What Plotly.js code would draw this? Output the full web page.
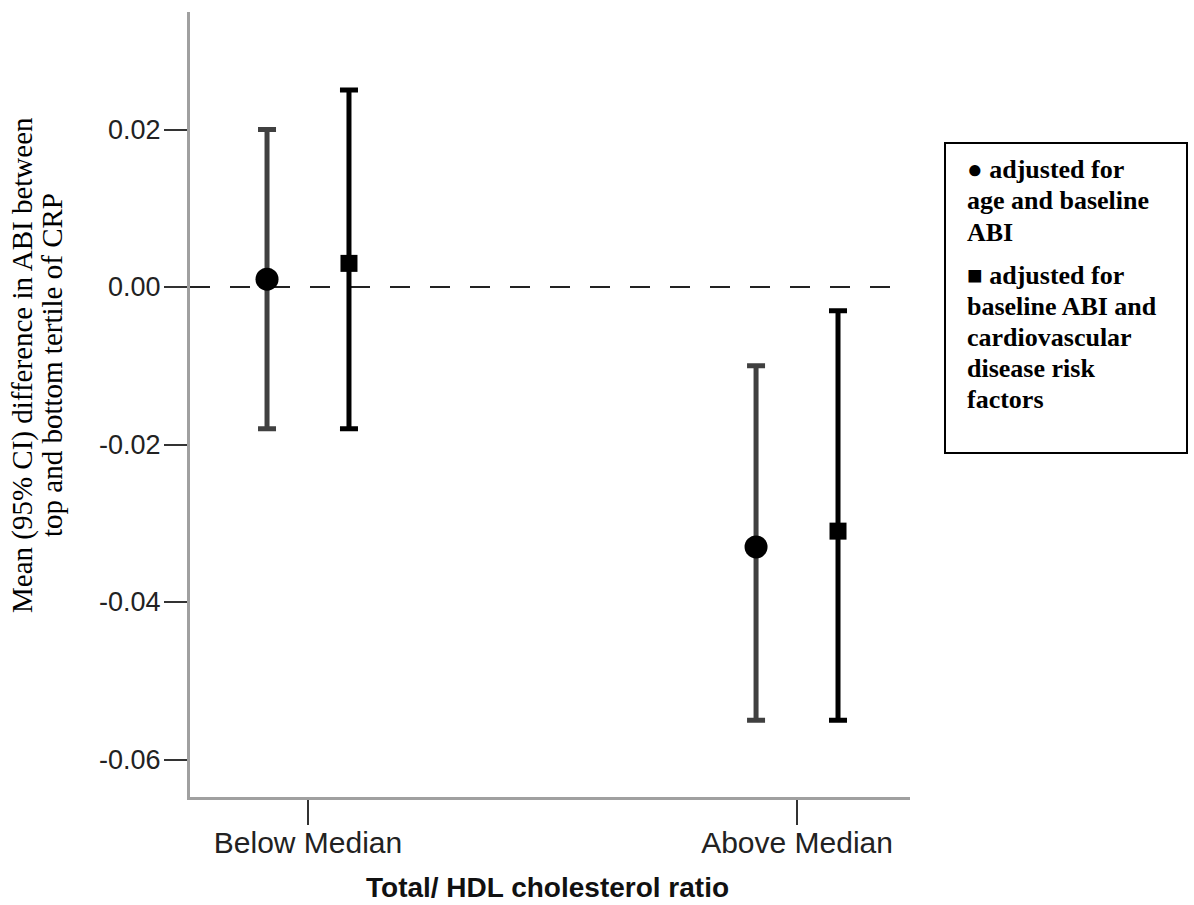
<!DOCTYPE html>
<html>
<head>
<meta charset="utf-8">
<script src="https://cdn.plot.ly/plotly-3.0.1.min.js"></script>
<style>
  html, body { margin: 0; padding: 0; background: #ffffff; }
  #chart { width: 1194px; height: 905px; }
</style>
</head>
<body>
<div id="chart"></div>
<script>
// Mean difference in ABI (top vs bottom CRP tertile) with 95% CI,
// by Total/HDL cholesterol ratio group.
const categories = ['Below Median', 'Above Median'];

// Model 1: adjusted for age and baseline ABI (circles)
const meanAgeAdj  = [0.001, -0.033];
const lowerAgeAdj = [-0.018, -0.055];
const upperAgeAdj = [0.020, -0.010];

// Model 2: adjusted for baseline ABI and CVD risk factors (squares)
const meanRiskAdj  = [0.003, -0.031];
const lowerRiskAdj = [-0.018, -0.055];
const upperRiskAdj = [0.025, -0.003];

const yTickVals = [0.02, 0.00, -0.02, -0.04, -0.06];
const yTickText = ['0.02', '0.00', '-0.02', '-0.04', '-0.06'];

const legendAgeAdj  = ['\u25CF adjusted for', 'age and baseline', 'ABI'];
const legendRiskAdj = ['\u25A0 adjusted for', 'baseline ABI and', 'cardiovascular', 'disease risk', 'factors'];

const yTitleLines = ['Mean (95% CI) difference in ABI between', 'top and bottom tertile of CRP'];
const xTitle = 'Total/ HDL cholesterol ratio';

// ---- layout geometry ----
const W = 1194, H = 905;
const M = { l: 190, r: 284, t: 12, b: 108 };
const plotW = W - M.l - M.r, plotH = H - M.t - M.b;
const px = x => (x - M.l) / plotW;          // pixel -> paper x
const py = y => (H - M.b - y) / plotH;      // pixel -> paper y

const groupOffset = 0.0838;                  // horizontal shift of each model within a group

const serif = 'Liberation Serif, Times New Roman, serif';
const sans = 'Liberation Sans, Arial, sans-serif';

function ciTrace(means, lows, highs, shift, symbol, size, barColor) {
  return {
    type: 'scatter',
    mode: 'markers',
    x: categories.map((_, i) => i + shift),
    y: means,
    marker: { symbol: symbol, size: size, color: '#000000' },
    error_y: {
      type: 'data',
      symmetric: false,
      array: means.map((m, i) => highs[i] - m),
      arrayminus: means.map((m, i) => m - lows[i]),
      color: barColor,
      thickness: 5,
      width: 9
    },
    hoverinfo: 'x+y'
  };
}

const traces = [
  ciTrace(meanAgeAdj, lowerAgeAdj, upperAgeAdj, -groupOffset, 'circle', 23, '#404040'),
  ciTrace(meanRiskAdj, lowerRiskAdj, upperRiskAdj, groupOffset, 'square', 17, '#000000')
];

const annotations = [];

// y-axis title, two rotated lines
[22, 52].forEach((xp, i) => {
  annotations.push({
    xref: 'paper', yref: 'paper', x: px(xp), y: py(365),
    xanchor: 'center', yanchor: 'middle', textangle: -90,
    text: yTitleLines[i], showarrow: false,
    font: { family: serif, size: 29, color: '#000000' }
  });
});

// x-axis title
annotations.push({
  xref: 'paper', yref: 'paper', x: px(547), y: py(887),
  xanchor: 'center', yanchor: 'middle',
  text: '<b>' + xTitle + '</b>', showarrow: false,
  font: { family: sans, size: 28, color: '#111111' }
});

// legend box text
const legendLines = [];
legendAgeAdj.forEach((t, i) => legendLines.push({ t: t, y: 170 + i * 31 }));
legendRiskAdj.forEach((t, i) => legendLines.push({ t: t, y: 275 + i * 31 }));
legendLines.forEach(l => {
  annotations.push({
    xref: 'paper', yref: 'paper', x: px(965), y: py(l.y),
    xanchor: 'left', yanchor: 'middle',
    text: '<b>' + l.t + '</b>', showarrow: false,
    font: { family: serif, size: 26, color: '#000000' }
  });
});

const shapes = [
  // reference line at zero
  {
    type: 'line', xref: 'paper', yref: 'y', x0: 0, x1: 1, y0: 0, y1: 0,
    line: { color: '#222222', width: 2, dash: '20px,20px' }, layer: 'below'
  },
  // legend frame
  {
    type: 'rect', xref: 'paper', yref: 'paper',
    x0: px(945), x1: px(1187), y0: py(453), y1: py(143),
    line: { color: '#000000', width: 2 }, fillcolor: 'rgba(0,0,0,0)'
  }
];

const layout = {
  width: W, height: H,
  margin: M,
  paper_bgcolor: '#ffffff', plot_bgcolor: '#ffffff',
  showlegend: false,
  xaxis: {
    range: [-0.2413, 1.231],
    tickvals: categories.map((_, i) => i),
    ticktext: categories,
    ticks: 'outside', ticklen: 25, tickwidth: 2, tickcolor: '#333333',
    ticklabelstandoff: -8,
    showline: true, linecolor: '#a0a0a0', linewidth: 3,
    showgrid: false, zeroline: false,
    tickfont: { family: sans, size: 30, color: '#222222' }
  },
  yaxis: {
    range: [-0.06476, 0.03492],
    tickvals: yTickVals, ticktext: yTickText,
    ticks: 'outside', ticklen: 23, tickwidth: 2, tickcolor: '#333333',
    ticklabelstandoff: -2,
    showline: true, linecolor: '#a0a0a0', linewidth: 3,
    showgrid: false, zeroline: false,
    tickfont: { family: sans, size: 27, color: '#222222' }
  },
  annotations: annotations,
  shapes: shapes
};

Plotly.newPlot('chart', traces, layout, { displayModeBar: false, staticPlot: true });
</script>
</body>
</html>
